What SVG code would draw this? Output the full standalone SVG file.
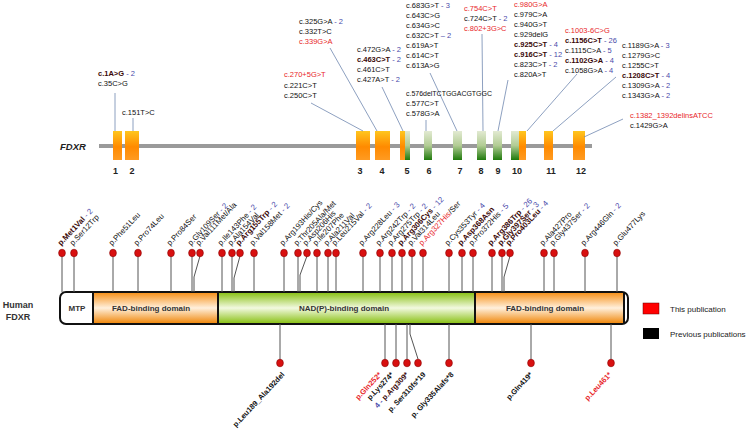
<svg xmlns="http://www.w3.org/2000/svg" width="749" height="434" viewBox="0 0 749 434">
<defs>
<linearGradient id="gO" x1="0" y1="0" x2="0" y2="1"><stop offset="0" stop-color="#ffc61e"/><stop offset="0.55" stop-color="#ff8a00"/><stop offset="1" stop-color="#ff9b22"/></linearGradient>
<linearGradient id="gG" x1="0" y1="0" x2="0" y2="1"><stop offset="0" stop-color="#e2ead2"/><stop offset="0.5" stop-color="#b2cc94"/><stop offset="1" stop-color="#1f7a0c"/></linearGradient>
<linearGradient id="dF" x1="0" y1="0" x2="0" y2="1"><stop offset="0" stop-color="#f7931e"/><stop offset="0.5" stop-color="#fff0dc"/><stop offset="1" stop-color="#f08a10"/></linearGradient>
<linearGradient id="dN" x1="0" y1="0" x2="0" y2="1"><stop offset="0" stop-color="#8cc21a"/><stop offset="0.5" stop-color="#f2f9e0"/><stop offset="1" stop-color="#8cc21a"/></linearGradient>
</defs>
<style>
text{font-family:"Liberation Sans",Arial,sans-serif}
.c{font-size:7.5px;fill:#111}
.r{fill:#e8262a}
.b{font-weight:bold;fill:#3a0808}
.n{fill:#4a4aaa}
.ln{stroke:#7088b0;stroke-width:0.8;fill:none}
.stem{stroke:#555;stroke-width:1;fill:none}
.dot{fill:#d81010;stroke:#8a0000;stroke-width:0.6}
.p{font-size:7.8px;fill:#111}
.q{font-size:7.5px;fill:#111;font-weight:bold}
.ex{font-size:9px;font-weight:bold;fill:#222;text-anchor:middle}
.dom{font-size:8px;font-weight:bold;fill:#333;text-anchor:middle}
.eo{fill:url(#gO)}
.eg{fill:url(#gG)}
</style>

<g id="gene">
<text x="60" y="150" font-size="9.5" font-weight="bold" font-style="italic" fill="#222">FDXR</text>
<rect x="99" y="144" width="493" height="4" fill="#9a9a9a"/>
</g>

<g id="exons">
<g id="exon1"><rect class="eo" x="113" y="131" width="9" height="29"/><text class="ex" x="115.5" y="174">1</text></g>
<g id="exon2"><rect class="eo" x="125" y="131" width="14" height="29"/><text class="ex" x="132" y="174">2</text></g>
<g id="exon3"><rect class="eo" x="356" y="131" width="14" height="29"/><text class="ex" x="360" y="174">3</text></g>
<g id="exon4"><rect class="eo" x="375" y="131" width="15" height="29"/><text class="ex" x="382" y="174">4</text></g>
<g id="exon5"><rect class="eo" x="400" y="131" width="5" height="29"/><rect class="eg" x="405" y="131" width="5" height="29"/><text class="ex" x="407" y="174">5</text></g>
<g id="exon6"><rect class="eg" x="424" y="131" width="8" height="29"/><text class="ex" x="429" y="174">6</text></g>
<g id="exon7"><rect class="eg" x="453" y="131" width="9" height="29"/><text class="ex" x="460" y="174">7</text></g>
<g id="exon8"><rect class="eg" x="477" y="131" width="9" height="29"/><text class="ex" x="481" y="174">8</text></g>
<g id="exon9"><rect class="eg" x="493" y="131" width="9" height="29"/><text class="ex" x="498" y="174">9</text></g>
<g id="exon10"><rect class="eg" x="511" y="131" width="8" height="29"/><rect class="eo" x="519" y="131" width="7" height="29"/><text class="ex" x="517" y="174">10</text></g>
<g id="exon11"><rect class="eo" x="544" y="131" width="9" height="29"/><text class="ex" x="551" y="174">11</text></g>
<g id="exon12"><rect class="eo" x="573" y="131" width="12" height="29"/><text class="ex" x="581" y="174">12</text></g>
</g>

<g id="gene-connectors">
<line class="ln" x1="115" y1="93" x2="115" y2="131"/>
<line class="ln" x1="133" y1="118" x2="133" y2="131"/>
<line class="ln" x1="311" y1="103" x2="363" y2="131"/>
<line class="ln" x1="330" y1="48" x2="377" y2="131"/>
<line class="ln" x1="382" y1="87" x2="403" y2="131"/>
<line class="ln" x1="426" y1="120" x2="426" y2="131"/>
<line class="ln" x1="430" y1="73" x2="457" y2="131"/>
<line class="ln" x1="482" y1="34" x2="483" y2="131"/>
<line class="ln" x1="508" y1="80" x2="498" y2="131"/>
<line class="ln" x1="577" y1="74" x2="527" y2="131"/>
<line class="ln" x1="616" y1="77" x2="553" y2="131"/>
<line class="ln" x1="623" y1="119" x2="584" y2="137"/>
</g>

<g id="mut-exon1" class="c">
<text x="98" y="76"><tspan class="b">c.1A&gt;G</tspan><tspan class="n"> - 2</tspan></text>
<text x="98" y="86">c.35C&gt;G</text>
</g>
<g id="mut-exon2" class="c"><text x="122" y="115">c.151T&gt;C</text></g>
<g id="mut-exon3" class="c">
<text x="284" y="77" class="r">c.270+5G&gt;T</text>
<text x="284" y="88">c.221C&gt;T</text>
<text x="284" y="98">c.250C&gt;T</text>
</g>
<g id="mut-exon4" class="c">
<text x="299" y="24">c.325G&gt;A<tspan class="n"> - 2</tspan></text>
<text x="299" y="34">c.332T&gt;C</text>
<text x="299" y="44" class="r">c.339G&gt;A</text>
</g>
<g id="mut-exon5" class="c">
<text x="357" y="52">c.472G&gt;A<tspan class="n"> - 2</tspan></text>
<text x="357" y="62"><tspan class="b">c.463C&gt;T</tspan><tspan class="n"> - 2</tspan></text>
<text x="357" y="72">c.461C&gt;T</text>
<text x="357" y="82">c.427A&gt;T<tspan class="n"> - 2</tspan></text>
</g>
<g id="mut-exon6" class="c">
<text x="406" y="96" textLength="86" lengthAdjust="spacingAndGlyphs">c.576delTCTGGACGTGGC</text>
<text x="406" y="106">c.577C&gt;T</text>
<text x="406" y="116">c.578G&gt;A</text>
</g>
<g id="mut-exon7" class="c">
<text x="406" y="8">c.683G&gt;T<tspan class="n"> - 3</tspan></text>
<text x="406" y="18">c.643C&gt;G</text>
<text x="406" y="28">c.634G&gt;C</text>
<text x="406" y="38">c.632C&gt;T<tspan class="n"> – 2</tspan></text>
<text x="406" y="48">c.619A&gt;T</text>
<text x="406" y="58">c.614C&gt;T</text>
<text x="406" y="68">c.613A&gt;G</text>
</g>
<g id="mut-exon8" class="c">
<text x="464" y="11" class="r">c.754C&gt;T</text>
<text x="464" y="21">c.724C&gt;T<tspan class="n"> - 2</tspan></text>
<text x="464" y="31" class="r">c.802+3G&gt;C</text>
</g>
<g id="mut-exon9" class="c">
<text x="514" y="7" class="r">c.980G&gt;A</text>
<text x="514" y="17">c.979C&gt;A</text>
<text x="514" y="27">c.940G&gt;T</text>
<text x="514" y="37">c.929delG</text>
<text x="514" y="47"><tspan class="b">c.925C&gt;T</tspan><tspan class="n"> - 4</tspan></text>
<text x="514" y="57"><tspan class="b">c.916C&gt;T</tspan><tspan class="n"> - 12</tspan></text>
<text x="514" y="67">c.823C&gt;T<tspan class="n"> - 2</tspan></text>
<text x="514" y="77">c.820A&gt;T</text>
</g>
<g id="mut-exon10" class="c">
<text x="565" y="33" class="r">c.1003-6C&gt;G</text>
<text x="565" y="43"><tspan class="b">c.1156C&gt;T</tspan><tspan class="n"> - 26</tspan></text>
<text x="565" y="53">c.1115C&gt;A<tspan class="n"> - 5</tspan></text>
<text x="565" y="63"><tspan class="b">c.1102G&gt;A</tspan><tspan class="n"> - 4</tspan></text>
<text x="565" y="73">c.1058G&gt;A<tspan class="n"> - 4</tspan></text>
</g>
<g id="mut-exon11" class="c">
<text x="622" y="48">c.1189G&gt;A<tspan class="n"> - 3</tspan></text>
<text x="622" y="58">c.1279G&gt;C</text>
<text x="622" y="68">c.1255C&gt;T</text>
<text x="622" y="78"><tspan class="b">c.1208C&gt;T</tspan><tspan class="n"> - 4</tspan></text>
<text x="622" y="88">c.1309G&gt;A<tspan class="n"> - 2</tspan></text>
<text x="622" y="98">c.1343G&gt;A<tspan class="n"> - 2</tspan></text>
</g>
<g id="mut-exon12" class="c">
<text x="630" y="118" class="r">c.1382_1392delinsATCC</text>
<text x="630" y="128">c.1429G&gt;A</text>
</g>

<g id="protein">
<rect x="60" y="292" width="568" height="32" rx="6" fill="#fff" stroke="#111" stroke-width="2"/>
<rect x="93" y="293" width="125" height="30" fill="url(#dF)"/>
<rect x="218" y="293" width="257" height="30" fill="url(#dN)"/>
<rect x="475" y="293" width="149" height="30" fill="url(#dF)"/>
<g stroke="#111" stroke-width="2"><line x1="93" y1="292" x2="93" y2="324"/><line x1="218" y1="292" x2="218" y2="324"/><line x1="475" y1="292" x2="475" y2="324"/><line x1="624" y1="292" x2="624" y2="324"/></g>
<text class="dom" x="77" y="311">MTP</text>
<text class="dom" x="151" y="311">FAD-binding domain</text>
<text class="dom" x="344" y="311">NAD(P)-binding domain</text>
<text class="dom" x="545" y="311">FAD-binding domain</text>
</g>
<g id="protein-label"><text x="18" y="308" font-size="9" font-weight="bold" fill="#333" text-anchor="middle">Human</text><text x="18" y="320" font-size="9" font-weight="bold" fill="#333" text-anchor="middle">FDXR</text></g>

<g id="legend">
<rect x="643" y="303" width="16" height="11" fill="#ff0000" stroke="#600" stroke-width="0.5"/>
<text x="670" y="312" font-size="8" fill="#222">This publication</text>
<rect x="643" y="328" width="16" height="11" fill="#000"/>
<text x="670" y="337" font-size="8" fill="#222">Previous publications</text>
</g>

<g id="stems" class="stem">
<path d="M62 256V292M74 256V292M113 256V292M138 256V292M171 256V292M192 256V292M200 256L194 277V292M222 256V292M232 256V292M240 256L234 278V292M254 256V292M284 256V292M298 256V292M307 256L300 275V292M317 256V292M328 256V292M336 256V292M363 256V292M380 256V292M392 256V292M402 256V292M412 256V292M423 256V292M449 256V292M462 256V292M473 256V292M492 256V292M502 256V292M510 256L504 277V292M544 256V292M554 256V292M585 256V292M617 256V292"/>
<path d="M280 324V360M385 324V360M396 324V360M407 324V360M410 324V334L418 359M449 324V360M531 324V360M611 324V360"/>
</g>

<g id="dots-above">
<ellipse class="dot" cx="62" cy="253" rx="3.4" ry="3.8"/><ellipse class="dot" cx="74" cy="253" rx="3.4" ry="3.8"/><ellipse class="dot" cx="113" cy="253" rx="3.4" ry="3.8"/><ellipse class="dot" cx="138" cy="253" rx="3.4" ry="3.8"/><ellipse class="dot" cx="171" cy="253" rx="3.4" ry="3.8"/><ellipse class="dot" cx="192" cy="253" rx="3.4" ry="3.8"/><ellipse class="dot" cx="200" cy="253" rx="3.4" ry="3.8"/><ellipse class="dot" cx="222" cy="253" rx="3.4" ry="3.8"/><ellipse class="dot" cx="232" cy="253" rx="3.4" ry="3.8"/><ellipse class="dot" cx="240" cy="253" rx="3.4" ry="3.8"/><ellipse class="dot" cx="254" cy="253" rx="3.4" ry="3.8"/><ellipse class="dot" cx="284" cy="253" rx="3.4" ry="3.8"/><ellipse class="dot" cx="298" cy="253" rx="3.4" ry="3.8"/><ellipse class="dot" cx="307" cy="253" rx="3.4" ry="3.8"/><ellipse class="dot" cx="317" cy="253" rx="3.4" ry="3.8"/><ellipse class="dot" cx="328" cy="253" rx="3.4" ry="3.8"/><ellipse class="dot" cx="336" cy="253" rx="3.4" ry="3.8"/><ellipse class="dot" cx="363" cy="253" rx="3.4" ry="3.8"/><ellipse class="dot" cx="380" cy="253" rx="3.4" ry="3.8"/><ellipse class="dot" cx="392" cy="253" rx="3.4" ry="3.8"/><ellipse class="dot" cx="402" cy="253" rx="3.4" ry="3.8"/><ellipse class="dot" cx="412" cy="253" rx="3.4" ry="3.8"/><ellipse class="dot" cx="423" cy="253" rx="3.4" ry="3.8"/><ellipse class="dot" cx="449" cy="253" rx="3.4" ry="3.8"/><ellipse class="dot" cx="462" cy="253" rx="3.4" ry="3.8"/><ellipse class="dot" cx="473" cy="253" rx="3.4" ry="3.8"/><ellipse class="dot" cx="492" cy="253" rx="3.4" ry="3.8"/><ellipse class="dot" cx="502" cy="253" rx="3.4" ry="3.8"/><ellipse class="dot" cx="510" cy="253" rx="3.4" ry="3.8"/><ellipse class="dot" cx="544" cy="253" rx="3.4" ry="3.8"/><ellipse class="dot" cx="554" cy="253" rx="3.4" ry="3.8"/><ellipse class="dot" cx="585" cy="253" rx="3.4" ry="3.8"/><ellipse class="dot" cx="617" cy="253" rx="3.4" ry="3.8"/>
</g>
<g id="dots-below">
<ellipse class="dot" cx="280" cy="363" rx="3.4" ry="3.8"/><ellipse class="dot" cx="385" cy="363" rx="3.4" ry="3.8"/><ellipse class="dot" cx="396" cy="363" rx="3.4" ry="3.8"/><ellipse class="dot" cx="407" cy="363" rx="3.4" ry="3.8"/><ellipse class="dot" cx="418" cy="363" rx="3.4" ry="3.8"/><ellipse class="dot" cx="449" cy="363" rx="3.4" ry="3.8"/><ellipse class="dot" cx="531" cy="363" rx="3.4" ry="3.8"/><ellipse class="dot" cx="611" cy="363" rx="3.4" ry="3.8"/>
</g>

<g id="labels-above" class="p">
<text transform="translate(61,246) rotate(-47)"><tspan class="b">p.Met1Val</tspan><tspan class="n"> - 2</tspan></text>
<text transform="translate(73,246) rotate(-47)">p.Ser12Trp</text>
<text transform="translate(112,246) rotate(-47)">p.Phe51Leu</text>
<text transform="translate(137,246) rotate(-47)">p.Pro74Leu</text>
<text transform="translate(170,246) rotate(-47)">p.Pro84Ser</text>
<text transform="translate(191,246) rotate(-47)">p.Gly109Ser<tspan class="n"> - 2</tspan></text>
<text transform="translate(199,246) rotate(-47)">p.Val111Met/Ala</text>
<text transform="translate(221,246) rotate(-47)">p.Ile143Phe<tspan class="n"> - 2</tspan></text>
<text transform="translate(231,246) rotate(-47)">p.Ala154Val</text>
<text transform="translate(239,246) rotate(-47)"><tspan class="b">p.Arg155Trp</tspan><tspan class="n"> - 2</tspan></text>
<text transform="translate(253,246) rotate(-47)">p.Val158Met<tspan class="n"> - 2</tspan></text>
<text transform="translate(283,246) rotate(-47)">p.Arg193His/Cys</text>
<text transform="translate(297,246) rotate(-47)">p.Thr205Ala/Met</text>
<text transform="translate(306,246) rotate(-47)">p.Asp206His</text>
<text transform="translate(316,246) rotate(-47)">p.Ile207Phe</text>
<text transform="translate(327,246) rotate(-47)">p.Ala211Val</text>
<text transform="translate(335,246) rotate(-47)">p.Leu215Val<tspan class="n"> - 2</tspan></text>
<text transform="translate(362,246) rotate(-47)">p.Arg228Leu<tspan class="n"> - 3</tspan></text>
<text transform="translate(379,246) rotate(-47)">p.Arg242Trp<tspan class="n"> - 2</tspan></text>
<text transform="translate(391,246) rotate(-47)">p.Arg275Trp<tspan class="n"> - 2</tspan></text>
<text transform="translate(401,246) rotate(-47)"><tspan class="b">p.Arg306Cys</tspan><tspan class="n"> - 12</tspan></text>
<text transform="translate(411,246) rotate(-47)">p.Val314Leu</text>
<text transform="translate(422,246) rotate(-47)"><tspan class="r">p.Arg327His</tspan>/Ser</text>
<text transform="translate(448,246) rotate(-47)">p.Cys353Tyr<tspan class="n"> - 4</tspan></text>
<text transform="translate(461,246) rotate(-47)"><tspan class="b">p.Asp368Asn</tspan></text>
<text transform="translate(472,246) rotate(-47)">p.Pro372His<tspan class="n"> - 5</tspan></text>
<text transform="translate(491,246) rotate(-47)"><tspan class="b">p.Arg386Trp</tspan><tspan class="n"> - 26</tspan></text>
<text transform="translate(501,246) rotate(-47)"><tspan class="b">p.Gly397Ser</tspan><tspan class="n"> - 3</tspan></text>
<text transform="translate(509,246) rotate(-47)"><tspan class="b">p.Pro403Leu</tspan><tspan class="n"> - 4</tspan></text>
<text transform="translate(543,246) rotate(-47)">p.Ala427Pro</text>
<text transform="translate(553,246) rotate(-47)">p.Gly437Ser<tspan class="n"> - 2</tspan></text>
<text transform="translate(584,246) rotate(-47)">p.Arg446Gln<tspan class="n"> - 2</tspan></text>
<text transform="translate(616,246) rotate(-47)">p.Glu477Lys</text>
</g>

<g id="labels-below" class="q" text-anchor="end">
<text transform="translate(285,375) rotate(-47)">p.Leu189_Ala192del</text>
<text transform="translate(382,375) rotate(-47)" class="r">p.Gln252*</text>
<text transform="translate(394,375) rotate(-47)">p.Lys274*</text>
<text transform="translate(409,375) rotate(-47)"><tspan class="n">4 - </tspan><tspan class="b">p.Arg309*</tspan></text>
<text transform="translate(426,375) rotate(-47)">p. Ser310fs*19</text>
<text transform="translate(454,375) rotate(-47)">p. Gly335Alafs*8</text>
<text transform="translate(533,375) rotate(-47)">p.Gln419*</text>
<text transform="translate(612,375) rotate(-47)" class="r">p.Leu461*</text>
</g>
</svg>
